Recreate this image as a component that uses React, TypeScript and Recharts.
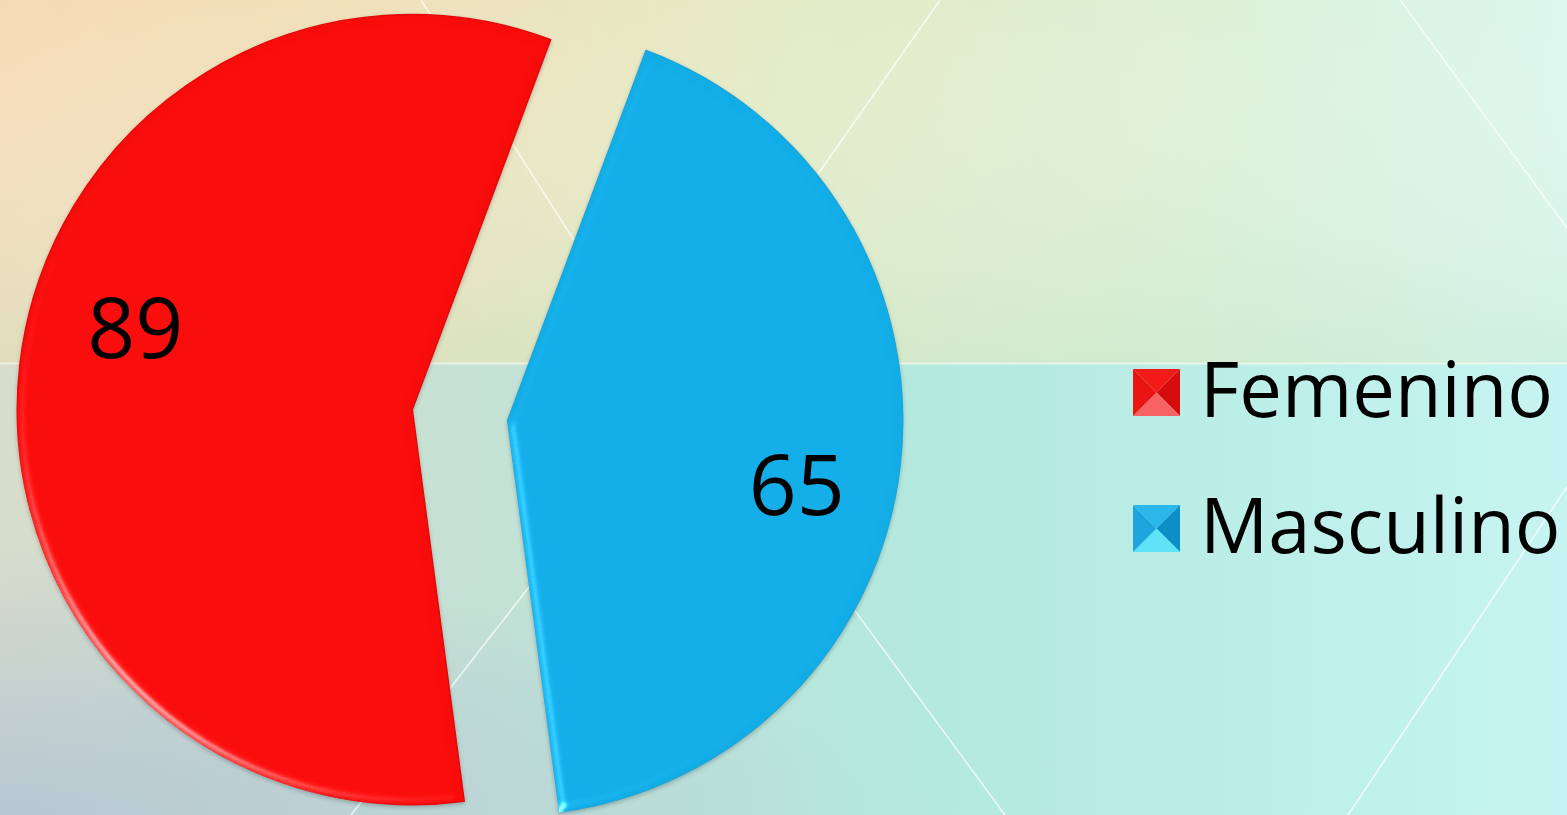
import React from 'react';
import { PieChart, Pie, Cell, Legend } from 'recharts';

// datos del gráfico
const categories = ['Femenino', 'Masculino'];
const values = [89, 65];
const colors = ['#f70b0b', '#12ade6'];
const rimColors = ['#e30909', '#1aa6dc'];
const squareShades = [
  ['#f31a1a', '#d60b0b', '#f86464', '#ea1414'],
  ['#2cb7ea', '#0c8fc7', '#5fe3f6', '#1ca5df'],
];

const W = 1567;
const H = 815;
const CX = 460;
const CY = 415;
const R = 395;
const EXPLODE = 48;
const START = 69.5;
const RAD = Math.PI / 180;

const data = categories.map((name, i) => ({ name, value: values[i] }));
const total = values.reduce((a, b) => a + b, 0);
const midAngles = values.map((v, i) => {
  const before = values.slice(0, i).reduce((a, b) => a + b, 0);
  return START + ((before + v / 2) / total) * 360;
});

const renderLabel = (k: number) => (props: any) => {
  if (props.index !== k) return null;
  const a = (props.midAngle - 8) * RAD;
  const r = props.outerRadius * 0.74;
  return (
    <text
      x={props.cx + r * Math.cos(a) + 6}
      y={props.cy - r * Math.sin(a) - 11}
      textAnchor="middle"
      dominantBaseline="central"
      fontFamily='"Open Sans", sans-serif'
      fontSize={84}
      fill="#000"
    >
      {props.value}
    </text>
  );
};

const LegendSquare = ({ shades }: { shades: string[] }) => (
  <svg width={47} height={47} style={{ display: 'block', marginRight: 20, position: 'relative', top: 4 }}>
    <polygon points="0,0 47,0 23.5,23.5" fill={shades[0]} />
    <polygon points="47,0 47,47 23.5,23.5" fill={shades[1]} />
    <polygon points="0,47 47,47 23.5,23.5" fill={shades[2]} />
    <polygon points="0,0 0,47 23.5,23.5" fill={shades[3]} />
  </svg>
);

const LegendContent = () => (
  <div style={{ fontFamily: '"Open Sans", sans-serif', fontSize: 76, lineHeight: '136px', color: '#000' }}>
    {categories.map((c, i) => (
      <div key={c} style={{ display: 'flex', alignItems: 'center', whiteSpace: 'nowrap' }}>
        <LegendSquare shades={squareShades[i]} />
        <span>{c}</span>
      </div>
    ))}
  </div>
);

const Background = () => (
  <svg width={W} height={H} style={{ position: 'absolute', left: 0, top: 0 }}>
    <defs>
      <linearGradient id="topH" x1="0" y1="0" x2="1" y2="0">
        <stop offset="0" stopColor="#f6dbb6" />
        <stop offset="0.25" stopColor="#efe1bb" />
        <stop offset="0.5" stopColor="#e4ebc6" />
        <stop offset="0.8" stopColor="#dcf1d8" />
        <stop offset="1" stopColor="#dcf7ef" />
      </linearGradient>
      <linearGradient id="topV" x1="0" y1="0" x2="0" y2="1">
        <stop offset="0" stopColor="#ffffff" stopOpacity="0" />
        <stop offset="1" stopColor="#b8e2c8" stopOpacity="0.35" />
      </linearGradient>
      <linearGradient id="botH" x1="0" y1="0" x2="1" y2="0">
        <stop offset="0" stopColor="#d8dccb" />
        <stop offset="0.35" stopColor="#c2e3d6" />
        <stop offset="0.6" stopColor="#b3e9df" />
        <stop offset="1" stopColor="#c6f4f2" />
      </linearGradient>
      <radialGradient id="botL" cx="0" cy="1" r="0.6">
        <stop offset="0" stopColor="#a9bfd6" stopOpacity="0.7" />
        <stop offset="1" stopColor="#a9bfd6" stopOpacity="0" />
      </radialGradient>
    </defs>
    <rect x={0} y={0} width={W} height={363} fill="url(#topH)" />
    <rect x={0} y={0} width={W} height={363} fill="url(#topV)" />
    <rect x={0} y={363} width={W} height={H - 363} fill="url(#botH)" />
    <rect x={0} y={363} width={W} height={H - 363} fill="url(#botL)" />
    <line x1={0} y1={363.5} x2={W} y2={363.5} stroke="#f4f8ea" strokeWidth={2} opacity={0.8} />
    <g stroke="#ffffff" strokeWidth={1.5} opacity={0.75}>
      <line x1={421} y1={0} x2={668} y2={388} />
      <line x1={940} y1={0} x2={668} y2={388} />
      <line x1={351} y1={815} x2={704} y2={363} />
      <line x1={1005} y1={815} x2={700} y2={400} />
      <line x1={1400} y1={0} x2={1567} y2={228} />
      <line x1={1348} y1={815} x2={1567} y2={487} />
    </g>
  </svg>
);

export default function App() {
  return (
    <div style={{ position: 'fixed', left: 0, top: 0, width: W, height: H, overflow: 'hidden' }}>
      <Background />
      <div style={{ position: 'absolute', left: 0, top: 0 }}>
        <PieChart width={W} height={H} margin={{ top: 0, right: 0, bottom: 0, left: 0 }}>
          <defs>
            <filter id="bevel" x="-5%" y="-5%" width="110%" height="110%" colorInterpolationFilters="sRGB">
              <feGaussianBlur in="SourceAlpha" stdDeviation="5" result="blur" />
              <feSpecularLighting in="blur" surfaceScale="5" specularConstant="0.8" specularExponent="30" lightingColor="#ffffff" result="spec">
                <feDistantLight azimuth={135} elevation={30} />
              </feSpecularLighting>
              <feComposite in="spec" in2="SourceAlpha" operator="in" result="specIn" />
              <feComposite in="SourceGraphic" in2="specIn" operator="arithmetic" k1={0} k2={1} k3={0.7} k4={0} result="lit" />
              <feDropShadow dx="0" dy="2" stdDeviation="2" floodColor="#000" floodOpacity="0.22" />
            </filter>
          </defs>
          {data.map((_, k) => (
            <Pie
              key={k}
              data={data}
              dataKey="value"
              nameKey="name"
              cx={CX + EXPLODE * Math.cos(midAngles[k] * RAD)}
              cy={CY - EXPLODE * Math.sin(midAngles[k] * RAD)}
              outerRadius={R}
              startAngle={START}
              endAngle={START + 360}
              isAnimationActive={false}
              labelLine={false}
              label={renderLabel(k)}
            >
              {data.map((d, i) => (
                <Cell
                  key={d.name}
                  fill={i === k ? colors[i] : 'transparent'}
                  stroke={i === k ? rimColors[i] : 'none'}
                  strokeWidth={1.5}
                  filter={i === k ? 'url(#bevel)' : undefined}
                />
              ))}
            </Pie>
          ))}
          <Legend
            content={<LegendContent />}
            layout="vertical"
            wrapperStyle={{ left: 1133, top: 320, width: 434 }}
          />
        </PieChart>
      </div>
    </div>
  );
}
